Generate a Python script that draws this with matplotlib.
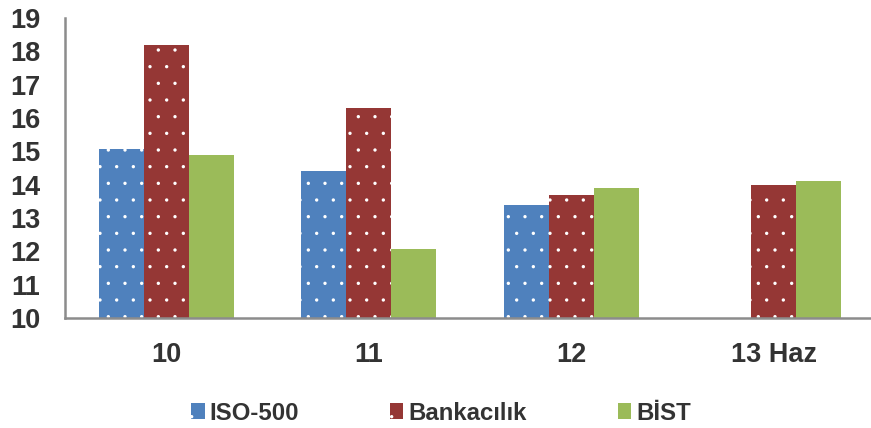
import numpy as np
import matplotlib
matplotlib.use("Agg")
from matplotlib import pyplot as plt

# Categories and series values
categories = ["10", "11", "12", "13 Haz"]
iso500 = [15.07, 14.4, 13.4, np.nan]
bankacilik = [18.2, 16.3, 13.7, 14.0]
bist = [14.9, 12.07, 13.9, 14.1]
seriesNames = ["ISO-500", "Bankacılık", "BİST"]

plt.rcParams["font.family"] = ["Liberation Sans", "DejaVu Sans"]
plt.rcParams["font.weight"] = "bold"
plt.rcParams["hatch.linewidth"] = 0.0

textColor = "#333333"
colors = ["#4F81BD", "#953735", "#9BBB59"]
hatches = [".", ".", None]

fig = plt.figure(figsize=(8.71, 4.28), dpi=100)
ax = fig.add_axes([65 / 871, 110 / 428, (871 - 65) / 871, 300 / 428])

x = np.arange(len(categories))
width = 0.222
handles = []
for i, values in enumerate([iso500, bankacilik, bist]):
    offset = (i - 1) * width
    if hatches[i]:
        bars = ax.bar(x + offset, values, width, color=colors[i],
                      edgecolor="white", linewidth=0, hatch=hatches[i],
                      label=seriesNames[i])
    else:
        bars = ax.bar(x + offset, values, width, color=colors[i],
                      linewidth=0, label=seriesNames[i])
    handles.append(bars)

# Axis ranges and ticks
ax.set_ylim(10, 19)
ax.set_xlim(-0.5, 3.5 - 4 / 202.5)
ax.set_yticks(np.arange(10, 20, 1))
ax.set_xticks(x)
ax.set_xticklabels(categories)
ax.tick_params(axis="y", length=0, pad=18, labelsize=19.5, labelcolor=textColor)
ax.tick_params(axis="x", length=0, pad=17, labelsize=19.5, labelcolor=textColor)

for side in ["top", "right"]:
    ax.spines[side].set_visible(False)
for side in ["left", "bottom"]:
    ax.spines[side].set_color("#8c8c8c")
    ax.spines[side].set_linewidth(1.8)

# Legend at the bottom
leg = fig.legend(handles=handles, loc="center", bbox_to_anchor=(441 / 871, 1 - 413 / 428),
                 ncol=3, frameon=False, fontsize=17.3, handlelength=0.55,
                 handleheight=0.6, handletextpad=0.2, columnspacing=3.8)
for t in leg.get_texts():
    t.set_color(textColor)

plt.savefig("out.png", dpi=100)
